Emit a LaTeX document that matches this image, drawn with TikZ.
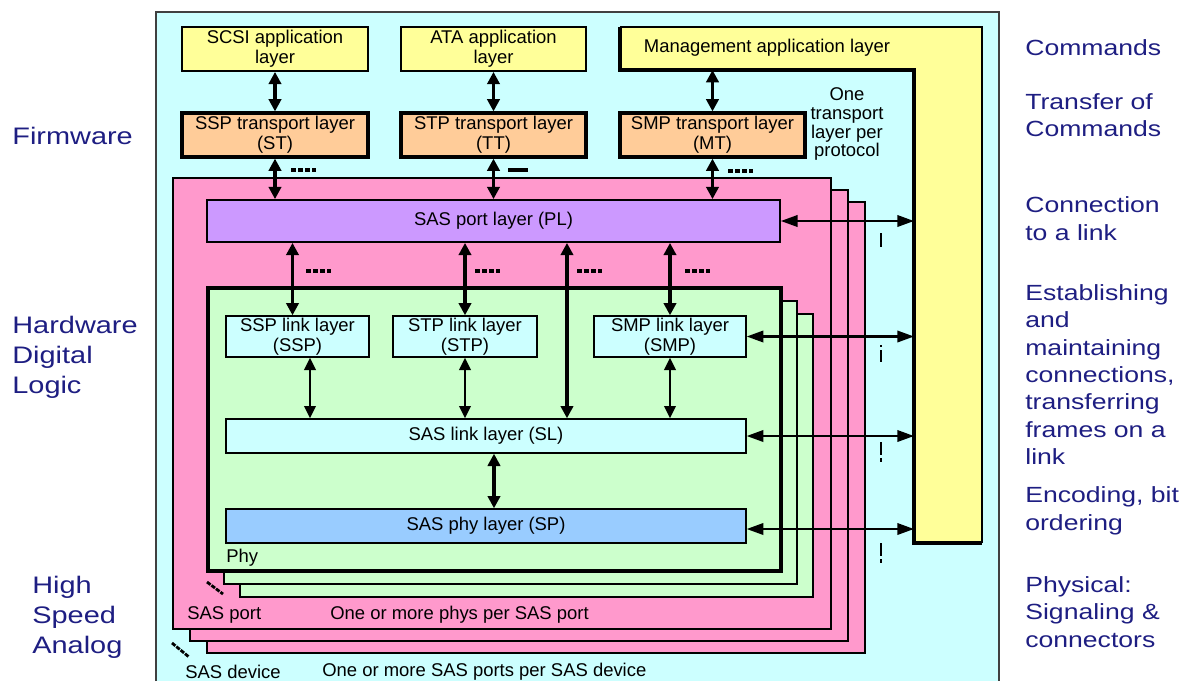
\documentclass[tikz,border=0pt]{standalone}
\usepackage{fontspec}
\setmainfont{Liberation Sans}
\newfontfamily\sidefont{Liberation Sans}[FakeStretch=1.21]
\usetikzlibrary{arrows.meta}
\definecolor{devcyan}{RGB}{204,255,255}
\definecolor{appyellow}{RGB}{255,255,153}
\definecolor{transorange}{RGB}{255,204,153}
\definecolor{portpink}{RGB}{255,153,204}
\definecolor{portpurple}{RGB}{204,153,255}
\definecolor{phygreen}{RGB}{204,255,204}
\definecolor{phyblue}{RGB}{153,204,255}
\definecolor{sidetext}{RGB}{30,30,130}

\begin{document}
\begin{tikzpicture}[x=0.02cm,y=-0.02cm,
		>={Triangle[width=7pt,length=7pt]},
		layer/.style={draw,line width=1pt,minimum height=0.88cm,align=center,inner sep=0pt,font=\fontsize{10.5}{11.3}\selectfont},
		transbox/.style={layer,fill=transorange,line width=1.8pt},
		linkbox/.style={layer,fill=devcyan,line width=0.8pt,minimum height=0.82cm},
		dar/.style={<->,line width=1.8pt},
		tar/.style={<->,line width=1.2pt,>={Triangle[width=6.5pt,length=7pt]}},
		har/.style={<->,line width=1.3pt,>={Triangle[width=6.5pt,length=9.5pt]}},
		note/.style={inner sep=0pt,font=\fontsize{10.5}{10.8}\selectfont},
		lside/.style={anchor=west,align=left,inner sep=0pt,text=sidetext,font=\sidefont\fontsize{13.6}{17}\selectfont},
		rside/.style={anchor=west,align=left,inner sep=0pt,text=sidetext,font=\sidefont\fontsize{12.5}{15.6}\selectfont},
		dots/.style={line width=2pt,dash pattern=on 3pt off 1pt},
		vmark/.style={line width=1.5pt},
		slant/.style={line width=1.6pt,dash pattern=on 2.5pt off 0.7pt}]
	\useasboundingbox (0,0) rectangle (1198,681);
	\fill[devcyan] (156,12) rectangle (999,681);
	\draw[line width=1pt,black!75] (156,681) |- (999,12) -- (999,681);

	\fill[appyellow] (620,27) -- (982,27) -- (982,543) -- (914,543) -- (914,70) -- (620,70) -- cycle;
	\draw[line width=0.9pt] (620,27) -- (982,27) -- (982,543);
	\draw[line width=1.8pt] (620,27) |- (914,70) |- (982,543);
	\coordinate (mgmtstep) at (620,70);
	\coordinate (mgmtedge) at (914,0);
	\node[note] (mgmt) at (767,48) {Management application layer};

	\foreach \d in {2,1,0}
		\draw[fill=portpink,line width=1pt] (173+\d*17,178+\d*12) rectangle (831+\d*17,629+\d*12);
	\foreach \d in {2,1}
		\draw[fill=phygreen,line width=1pt] (208+\d*16,288+\d*13) rectangle (781+\d*16,571+\d*13);
	\draw[fill=phygreen,line width=1.8pt] (208,288) rectangle (781,571);

	\node[layer,fill=appyellow,minimum width=3.72cm] (scsiapp) at (275,49) {SCSI application\\layer};
	\node[layer,fill=appyellow,minimum width=3.7cm] (ataapp) at (493.5,49) {ATA application\\layer};
	\node[transbox,minimum width=3.72cm] (sspt) at (275,135) {SSP transport layer\\(ST)};
	\node[transbox,minimum width=3.7cm] (stpt) at (493.5,135) {STP transport layer\\(TT)};
	\node[transbox,minimum width=3.7cm] (smpt) at (712.5,135) {SMP transport layer\\(MT)};
	\node[note,align=center] (pernote) at (847,124) {One\\transport\\layer per\\protocol};

	\node[layer,fill=portpurple,minimum width=11.46cm,minimum height=0.84cm] (pl) at (493.5,221) {SAS port layer (PL)};
	\node[linkbox,minimum width=2.86cm] (ssplink) at (297.5,336.5) {SSP link layer\\(SSP)};
	\node[linkbox,minimum width=2.88cm] (stplink) at (465,336.5) {STP link layer\\(STP)};
	\node[linkbox,minimum width=3.04cm] (smplink) at (670,336.5) {SMP link layer\\(SMP)};
	\node[linkbox,minimum width=10.4cm,minimum height=0.68cm] (sl) at (486,436) {SAS link layer (SL)};
	\node[layer,fill=phyblue,line width=0.8pt,minimum width=10.4cm,minimum height=0.68cm] (sp) at (486,526) {SAS phy layer (SP)};

	\node[note,anchor=west] (phylbl) at (226,558) {Phy};
	\node[note,anchor=west] (portlbl) at (187,615) {SAS port};
	\node[note,anchor=west] (portnote) at (330,615) {One or more phys per SAS port};
	\node[note,anchor=west] (devlbl) at (185,672) {SAS device};
	\node[note,anchor=west] (devnote) at (322,672) {One or more SAS ports per SAS device};

	\draw[dar] (scsiapp) -- (sspt);
	\draw[dar] (ataapp) -- (stpt);
	\draw[dar] (smpt.north |- mgmtstep) -- (smpt);
	\draw[dar] (sspt) -- (sspt.south |- pl.north);
	\draw[dar] (stpt) -- (pl);
	\draw[dar] (smpt) -- (smpt.south |- pl.north);
	\draw[dar] ([xshift=-0.1cm]ssplink.north |- pl.south) -- ([xshift=-0.1cm]ssplink.north);
	\draw[dar] (stplink.north |- pl.south) -- (stplink);
	\draw[dar] ([xshift=1.62cm]sl.north |- pl.south) -- ([xshift=1.62cm]sl.north);
	\draw[dar] (smplink.north |- pl.south) -- (smplink);
	\draw[tar] ([xshift=0.25cm]ssplink.south) -- ([xshift=0.25cm]ssplink.south |- sl.north);
	\draw[tar] (stplink) -- (stplink.south |- sl.north);
	\draw[tar] (smplink) -- (smplink.south |- sl.north);
	\draw[dar] ([xshift=0.16cm]sl.south) -- ([xshift=0.16cm]sl.south |- sp.north);

	\draw[har] (pl.east) -- (pl.east -| mgmtedge);
	\draw[har] (smplink.east) -- (smplink.east -| mgmtedge);
	\draw[har] (sl.east) -- (sl.east -| mgmtedge);
	\draw[har] ([yshift=-0.06cm]sp.east) -- ([yshift=-0.06cm]sp.east -| mgmtedge);

	\draw[dots] (291,170) -- (316,170) (728,171) -- (753,171);
	\draw[line width=1.8pt] (508,170) -- (528,170);
	\foreach \x in {306,475,577,685}
		\draw[dots] (\x,271) -- (\x+25,271);
	\draw[vmark] (881,233) -- (881,247);
	\draw[vmark] (881,345) -- (881,347) (881,350) -- (881,362);
	\foreach \y in {442,543}
		\draw[vmark] (881,\y) -- (881,\y+13) (881,\y+16) -- (881,\y+20);
	\draw[slant] (207,582) -- (223,594);
	\draw[slant] (172,643) -- (189,657);

	\node[lside] (fw) at (12,136) {Firmware};
	\node[lside] (hw) at (12,357) {Hardware\\Digital\\Logic};
	\node[lside] (hsa) at (32,617) {High\\Speed\\Analog};
	\node[rside] (cmd) at (1025,48) {Commands};
	\node[rside] (xfer) at (1025,115) {Transfer of\\Commands};
	\node[rside] (conn) at (1025,218.5) {Connection\\to a link};
	\node[rside] (estab) at (1025,374.5) {Establishing\\and\\maintaining\\connections,\\transferring\\frames on a\\link};
	\node[rside] (enc) at (1025,511) {Encoding, bit\\ordering};
	\node[rside] (phys) at (1025,612) {Physical:\\Signaling \&\\connectors};
\end{tikzpicture}
\end{document}
